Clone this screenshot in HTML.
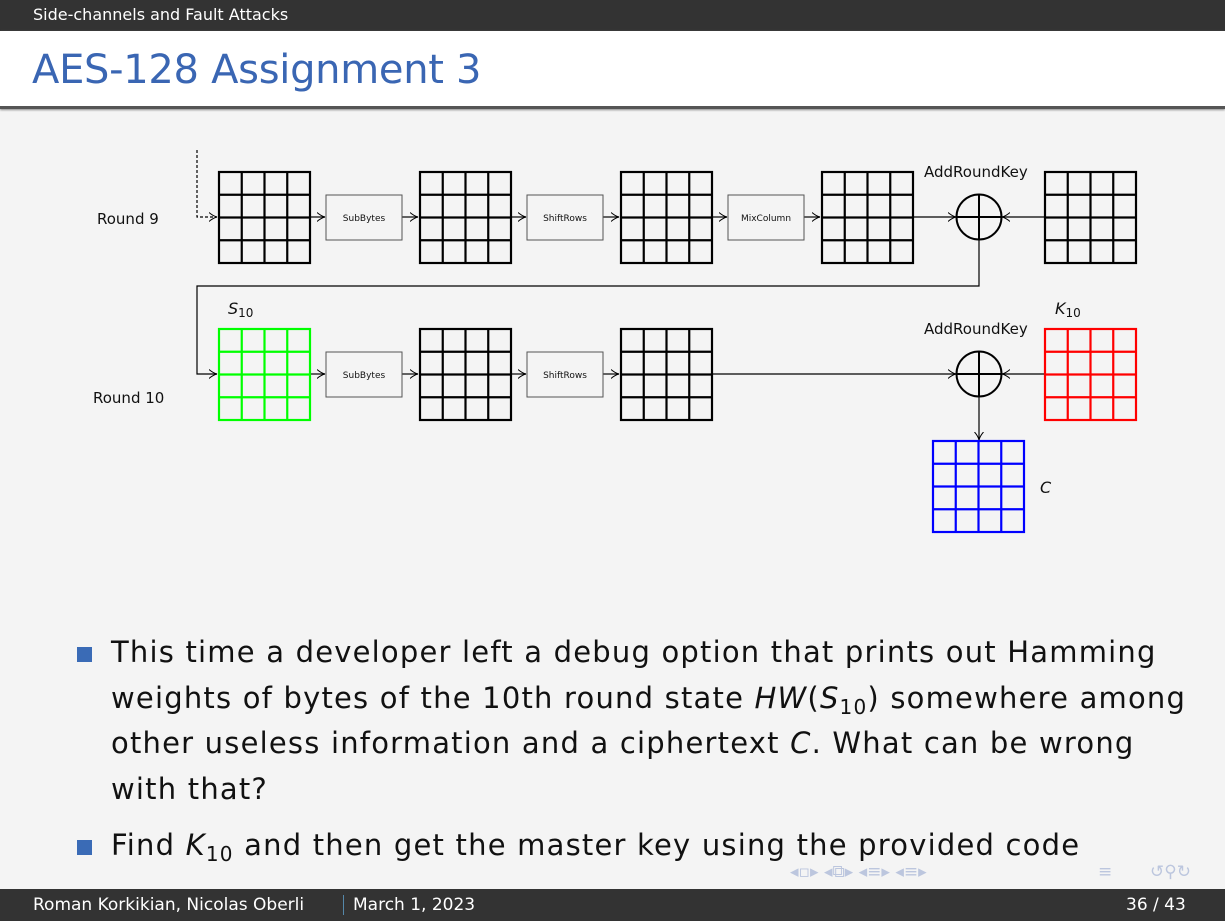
<!DOCTYPE html>
<html><head><meta charset="utf-8"><style>
body{margin:0;width:1225px;height:921px;overflow:hidden;background:#f4f4f4;font-family:"DejaVu Sans","Liberation Sans",sans-serif;position:relative}
.top{position:absolute;left:0;top:0;width:1225px;height:31px;background:#333;color:#fff;font-size:16px;line-height:31px}
.top span{position:absolute;left:33px;top:-1px}
.title{position:absolute;left:0;top:31px;width:1225px;height:75px;background:#fff;border-bottom:3px solid #555;box-shadow:0 1px 2px #888}
.title span{position:absolute;left:32px;top:16px;font-size:40px;color:#3a66b3;letter-spacing:-0.3px}
.foot{position:absolute;left:0;top:889px;width:1225px;height:32px;background:#333;color:#fff;font-size:17px;line-height:32px}
.txt{position:absolute;left:111px;font-size:29px;color:#111;line-height:45.5px;letter-spacing:1.2px;white-space:nowrap}
.txt sub{font-size:20px;line-height:0;vertical-align:-6px}
.b{position:absolute;left:77px;width:15px;height:15px;background:#3a6bb6}
</style></head><body>
<div class="top"><span>Side-channels and Fault Attacks</span></div>
<div class="title"><span>AES-128 Assignment 3</span></div>
<svg width="1225" height="921" style="position:absolute;left:0;top:0" font-family="DejaVu Sans, Liberation Sans, sans-serif">
<defs>
<g id="g" fill="none" stroke-width="2.2">
<rect x="0" y="0" width="91" height="91"/>
<line x1="22.75" y1="0" x2="22.75" y2="91"/><line x1="45.5" y1="0" x2="45.5" y2="91"/><line x1="68.25" y1="0" x2="68.25" y2="91"/>
<line y1="22.75" x1="0" y2="22.75" x2="91"/><line y1="45.5" x1="0" y2="45.5" x2="91"/><line y1="68.25" x1="0" y2="68.25" x2="91"/>
</g>
<marker id="a" markerWidth="10" markerHeight="10" refX="8" refY="5" orient="auto" markerUnits="userSpaceOnUse"><path d="M0,0.5 Q4,4 8,5 Q4,6 0,9.5" fill="none" stroke="#000" stroke-width="1"/></marker>
</defs>
<g stroke="#000" stroke-width="1.2" fill="none">
<path d="M197,150 V217 H217" stroke-dasharray="3,2" marker-end="url(#a)"/>
<line x1="309" y1="217" x2="325" y2="217" marker-end="url(#a)"/>
<line x1="402" y1="217" x2="418" y2="217" marker-end="url(#a)"/>
<line x1="510" y1="217" x2="526" y2="217" marker-end="url(#a)"/>
<line x1="603" y1="217" x2="619" y2="217" marker-end="url(#a)"/>
<line x1="711" y1="217" x2="727" y2="217" marker-end="url(#a)"/>
<line x1="804" y1="217" x2="820" y2="217" marker-end="url(#a)"/>
<line x1="912" y1="217" x2="956" y2="217" marker-end="url(#a)"/>
<line x1="1045" y1="217" x2="1002" y2="217" marker-end="url(#a)"/>
<path d="M979,240 V286 H197 V374 H217" marker-end="url(#a)"/>
<line x1="309" y1="374" x2="325" y2="374" marker-end="url(#a)"/>
<line x1="402" y1="374" x2="418" y2="374" marker-end="url(#a)"/>
<line x1="510" y1="374" x2="526" y2="374" marker-end="url(#a)"/>
<line x1="603" y1="374" x2="619" y2="374" marker-end="url(#a)"/>
<line x1="711" y1="374" x2="956" y2="374" marker-end="url(#a)"/>
<line x1="1045" y1="374" x2="1002" y2="374" marker-end="url(#a)"/>
<line x1="979" y1="397" x2="979" y2="440" marker-end="url(#a)"/>
</g>
<g stroke="#555" stroke-width="1" fill="#f4f4f4">
<rect x="326" y="195" width="76" height="45"/><rect x="527" y="195" width="76" height="45"/><rect x="728" y="195" width="76" height="45"/>
<rect x="326" y="352" width="76" height="45"/><rect x="527" y="352" width="76" height="45"/>
</g>
<g font-size="9" text-anchor="middle" fill="#111">
<text x="364" y="221">SubBytes</text><text x="565" y="221">ShiftRows</text><text x="766" y="221">MixColumn</text>
<text x="364" y="378">SubBytes</text><text x="565" y="378">ShiftRows</text>
</g>
<g stroke="#000">
<use href="#g" x="219" y="172"/><use href="#g" x="420" y="172"/><use href="#g" x="621" y="172"/><use href="#g" x="822" y="172"/><use href="#g" x="1045" y="172"/>
<use href="#g" x="420" y="329"/><use href="#g" x="621" y="329"/>
</g>
<use href="#g" x="219" y="329" stroke="#00ff00"/>
<use href="#g" x="1045" y="329" stroke="#ff0000"/>
<use href="#g" x="933" y="441" stroke="#0000ff"/>
<g stroke="#000" stroke-width="2" fill="none">
<circle cx="979" cy="217" r="22.5"/><line x1="979" y1="194.5" x2="979" y2="239.5"/><line x1="956.5" y1="217" x2="1001.5" y2="217"/>
<circle cx="979" cy="374" r="22.5"/><line x1="979" y1="351.5" x2="979" y2="396.5"/><line x1="956.5" y1="374" x2="1001.5" y2="374"/>
</g>
<g font-size="15" fill="#111">
<text x="97" y="224">Round 9</text><text x="93" y="403">Round 10</text>
<text x="924" y="177">AddRoundKey</text><text x="924" y="334">AddRoundKey</text>
<text x="228" y="314" font-style="italic" font-size="16">S<tspan font-style="normal" font-size="12" dy="3">10</tspan></text>
<text x="1055" y="314" font-style="italic" font-size="16">K<tspan font-style="normal" font-size="12" dy="3">10</tspan></text>
<text x="1040" y="493" font-style="italic" font-size="16">C</text>
</g>
<g fill="#bcc6de" font-size="17"><text x="790" y="877">◂▫▸ ◂⧉▸ ◂≡▸ ◂≡▸</text><text x="1098" y="877">≡</text><text x="1150" y="877">↺⚲↻</text></g>
</svg>
<div class="b" style="top:647px"></div>
<div class="txt" style="top:630px">This time a developer left a debug option that prints out Hamming<br>weights of bytes of the 10th round state <i>HW</i>(<i>S</i><sub>10</sub>) somewhere among<br>other useless information and a ciphertext <i>C</i>. What can be wrong<br>with that?</div>
<div class="b" style="top:840px"></div>
<div class="txt" style="top:823px">Find <i>K</i><sub>10</sub> and then get the master key using the provided code</div>
<div class="foot"><span style="position:absolute;left:33px">Roman Korkikian, Nicolas Oberli</span><span style="position:absolute;left:343px;top:6px;height:20px;border-left:1px solid #58a"></span><span style="position:absolute;left:353px">March 1, 2023</span><span style="position:absolute;left:1126px">36 / 43</span></div>
</body></html>
